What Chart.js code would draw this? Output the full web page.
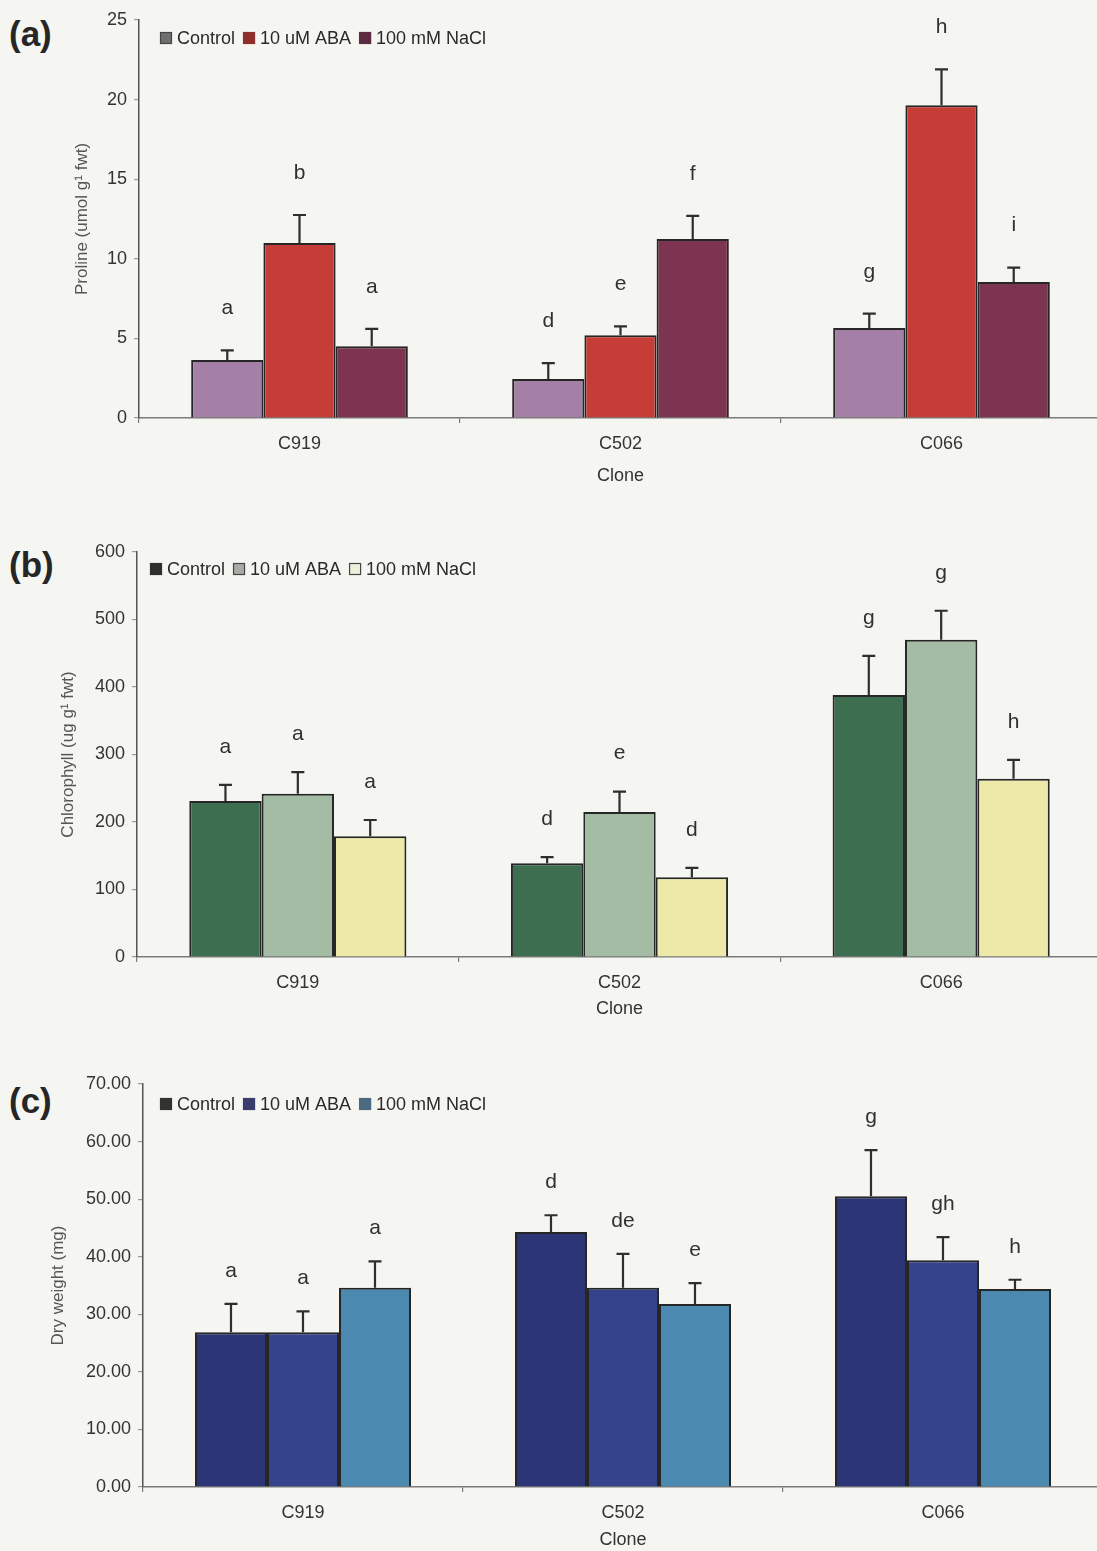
<!DOCTYPE html>
<html>
<head>
<meta charset="utf-8">
<title>Proline, chlorophyll and dry weight by clone</title>
<script src="https://cdn.jsdelivr.net/npm/chart.js@4.4.1/dist/chart.umd.min.js"></script>
<style>
  html, body { margin: 0; padding: 0; }
  body { width: 1097px; height: 1551px; background: #f5f5f1; position: relative; overflow: hidden;
         font-family: 'Liberation Sans', Arial, sans-serif; }
  canvas { position: absolute; left: 0; }
  .panel { position: absolute; left: 9px; font-weight: bold; font-size: 35px; color: #262626; line-height: 1; }
</style>
</head>
<body>
<div class="panel" style="top:16px">(a)</div>
<div class="panel" style="top:547px">(b)</div>
<div class="panel" style="top:1083px">(c)</div>
<canvas id="chartA" width="1102" height="500" style="top:0px"></canvas>
<canvas id="chartB" width="1102" height="540" style="top:500px"></canvas>
<canvas id="chartC" width="1103" height="511" style="top:1040px"></canvas>
<script>
// ---- data ----
const clones = ['C919', 'C502', 'C066'];
const treatments = ['Control', '10 uM ABA', '100 mM NaCl'];

// (a) proline, umol g-1 fwt
const prolineControl = [3.65, 2.45, 5.65];
const prolineABA     = [11.0, 5.2, 19.65];
const prolineNaCl    = [4.5, 11.25, 8.55];
const prolineErrControl = [0.6, 1.0, 0.9];
const prolineErrABA     = [1.75, 0.55, 2.25];
const prolineErrNaCl    = [1.1, 1.45, 0.9];
const prolineLetters = [['a', 'd', 'g'], ['b', 'e', 'h'], ['a', 'f', 'i']];
const prolineTicks = [0, 5, 10, 15, 20, 25];

// (b) chlorophyll, ug g-1 fwt
const chlControl = [231, 139, 388];
const chlABA     = [242, 215, 470];
const chlNaCl    = [179, 118, 264];
const chlErrControl = [24, 9, 58];
const chlErrABA     = [32, 30, 43];
const chlErrNaCl    = [24, 14, 28];
const chlLetters = [['a', 'd', 'g'], ['a', 'e', 'g'], ['a', 'd', 'h']];
const chlTicks = [0, 100, 200, 300, 400, 500, 600];

// (c) dry weight, mg
const dwControl = [26.9, 44.3, 50.5];
const dwABA     = [26.9, 34.6, 39.4];
const dwNaCl    = [34.6, 31.8, 34.4];
const dwErrControl = [4.9, 2.9, 8.0];
const dwErrABA     = [3.6, 5.9, 4.0];
const dwErrNaCl    = [4.6, 3.6, 1.6];
const dwLetters = [['a', 'd', 'g'], ['a', 'de', 'gh'], ['a', 'e', 'h']];
const dwTicks = [0, 10, 20, 30, 40, 50, 60, 70];

// ---- drawing ----
const FONT = "'Liberation Sans', Arial, sans-serif";
Chart.defaults.font.family = FONT;
Chart.defaults.font.size = 18;
Chart.defaults.color = '#333';

// error bars (upper half only), significance letters and the inline legend
const annotations = {
  id: 'annotations',
  afterDatasetsDraw(chart, args, opts) {
    const ctx = chart.ctx;
    const y = chart.scales.y;
    ctx.save();
    chart.data.datasets.forEach((ds, i) => {
      const meta = chart.getDatasetMeta(i);
      meta.data.forEach((bar, j) => {
        const top = y.getPixelForValue(ds.data[j] + ds.errors[j]);
        ctx.strokeStyle = '#2e2e2e';
        ctx.lineWidth = 2.2;
        ctx.beginPath();
        ctx.moveTo(bar.x, bar.y);
        ctx.lineTo(bar.x, top);
        ctx.moveTo(bar.x - 6.5, top);
        ctx.lineTo(bar.x + 6.5, top);
        ctx.stroke();
        ctx.fillStyle = '#303030';
        ctx.font = '21px ' + FONT;
        ctx.textAlign = 'center';
        ctx.textBaseline = 'middle';
        ctx.fillText(ds.letters[j], bar.x, top - opts.letterGap);
      });
    });

    // legend inside the plot area, top-left
    const area = chart.chartArea;
    let x = area.left + opts.legend.dx;
    const cy = area.top + opts.legend.dy;
    ctx.font = '18px ' + FONT;
    ctx.textAlign = 'left';
    ctx.textBaseline = 'middle';
    chart.data.datasets.forEach((ds, i) => {
      const sw = opts.legend.swatches[i];
      ctx.fillStyle = sw.fill;
      ctx.fillRect(x, cy - 6, 12, 12);
      ctx.strokeStyle = sw.stroke;
      ctx.lineWidth = 1.2;
      ctx.strokeRect(x + 0.5, cy - 5.5, 11, 11);
      x += 17;
      ctx.fillStyle = '#2a2a2a';
      ctx.fillText(ds.label, x, cy + 1);
      x += ctx.measureText(ds.label).width + 8;
    });
    ctx.restore();
  }
};

function makeChart(id, cfg) {
  const datasets = cfg.series.map((s, i) => ({
    label: treatments[i],
    data: s.values,
    errors: s.errors,
    letters: s.letters,
    backgroundColor: s.color,
    borderColor: '#262626',
    borderWidth: 2,
    categoryPercentage: 0.675,
    barPercentage: 1.0
  }));
  return new Chart(document.getElementById(id), {
    type: 'bar',
    data: { labels: clones, datasets },
    plugins: [annotations],
    options: {
      responsive: false,
      animation: false,
      layout: { padding: { top: cfg.padTop, right: 0, bottom: 0, left: 0 } },
      plugins: {
        legend: { display: false },
        tooltip: { enabled: false },
        annotations: { letterGap: cfg.letterGap, legend: cfg.legend }
      },
      scales: {
        x: {
          type: 'category',
          grid: { offset: true, drawOnChartArea: false, drawTicks: true, tickLength: 5, color: '#777', lineWidth: 1.2 },
          border: { display: true, color: '#7a7a7a', width: 1.5 },
          ticks: { padding: 10, color: '#333', font: { size: 18 } },
          title: { display: true, text: 'Clone', color: '#333', font: { size: 18 }, padding: { top: 0, bottom: cfg.titleBottom } },
          afterFit(s) { s.height = cfg.xHeight; }
        },
        y: {
          min: cfg.ticks[0],
          max: cfg.ticks[cfg.ticks.length - 1],
          afterBuildTicks(s) { s.ticks = cfg.ticks.map(v => ({ value: v })); },
          grid: { drawOnChartArea: false, drawTicks: true, tickLength: 5, color: '#999', lineWidth: 1.2 },
          border: { display: true, color: '#555', width: 1.5 },
          ticks: { padding: 7, color: '#333', font: { size: 18 },
                   callback: v => cfg.decimals ? Number(v).toFixed(cfg.decimals) : String(v) },
          title: { display: true, text: cfg.yTitle, color: '#555', font: { size: 17 }, padding: { top: cfg.yTitlePad, bottom: 0 } },
          afterFit(s) { s.width = cfg.yWidth; }
        }
      }
    }
  });
}

makeChart('chartA', {
  series: [
    { values: prolineControl, errors: prolineErrControl, letters: prolineLetters[0], color: '#a480a7' },
    { values: prolineABA,     errors: prolineErrABA,     letters: prolineLetters[1], color: '#c63c36' },
    { values: prolineNaCl,    errors: prolineErrNaCl,    letters: prolineLetters[2], color: '#7d3450' }
  ],
  ticks: prolineTicks, decimals: 0,
  yTitle: 'Proline (umol g\u00B9 fwt)', yTitlePad: 72, yWidth: 139,
  padTop: 20, xHeight: 82, titleBottom: 13, letterGap: 42,
  legend: { dx: 21, dy: 18, swatches: [
    { fill: '#6f6f6f', stroke: '#444' }, { fill: '#8f2f2c', stroke: '#8f2f2c' }, { fill: '#5c2b42', stroke: '#5c2b42' } ] }
});

makeChart('chartB', {
  series: [
    { values: chlControl, errors: chlErrControl, letters: chlLetters[0], color: '#3d6e4f' },
    { values: chlABA,     errors: chlErrABA,     letters: chlLetters[1], color: '#a4bca4' },
    { values: chlNaCl,    errors: chlErrNaCl,    letters: chlLetters[2], color: '#ede9a8' }
  ],
  ticks: chlTicks, decimals: 0,
  yTitle: 'Chlorophyll (ug g\u00B9 fwt)', yTitlePad: 58, yWidth: 137,
  padTop: 52, xHeight: 83, titleBottom: 20, letterGap: 38,
  legend: { dx: 13, dy: 17, swatches: [
    { fill: '#2f2f2f', stroke: '#2f2f2f' }, { fill: '#a9aca3', stroke: '#444' }, { fill: '#efefdc', stroke: '#444' } ] }
});

makeChart('chartC', {
  series: [
    { values: dwControl, errors: dwErrControl, letters: dwLetters[0], color: '#2c3676' },
    { values: dwABA,     errors: dwErrABA,     letters: dwLetters[1], color: '#33438c' },
    { values: dwNaCl,    errors: dwErrNaCl,    letters: dwLetters[2], color: '#4b89b1' }
  ],
  ticks: dwTicks, decimals: 2,
  yTitle: 'Dry weight (mg)', yTitlePad: 48, yWidth: 143,
  padTop: 44, xHeight: 64, titleBottom: 0, letterGap: 33,
  legend: { dx: 17, dy: 20, swatches: [
    { fill: '#333333', stroke: '#333333' }, { fill: '#3a3d6c', stroke: '#3a3d6c' }, { fill: '#4c6b81', stroke: '#4c6b81' } ] }
});
</script>
</body>
</html>
